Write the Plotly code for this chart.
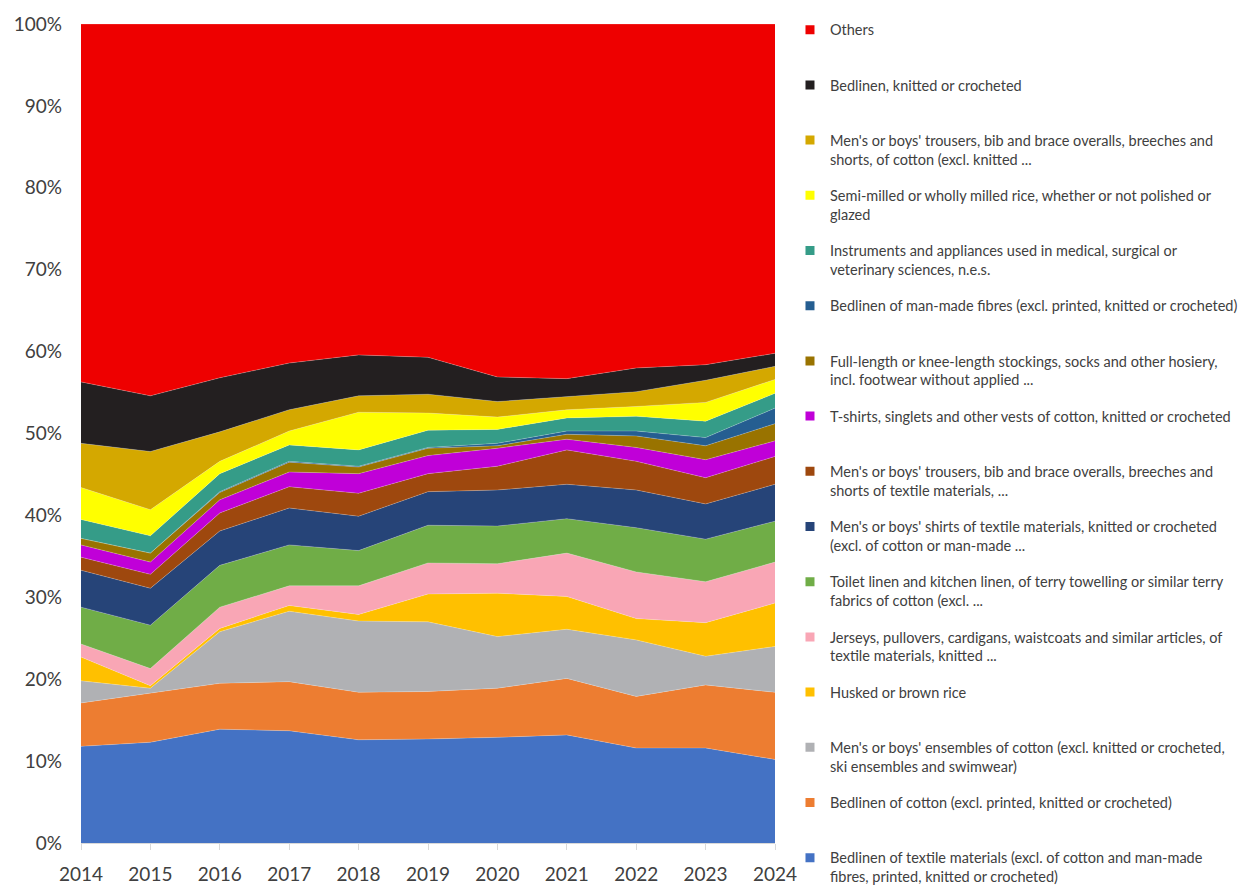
import plotly.graph_objects as go

# Years on the category axis
years = [2014, 2015, 2016, 2017, 2018, 2019, 2020, 2021, 2022, 2023, 2024]

# Share of each product group (percent), listed from the bottom of the stack upward
bedlinen_textile = [11.8, 12.3, 13.9, 13.7, 12.6, 12.7, 12.9, 13.2, 11.6, 11.6, 10.2]
bedlinen_cotton = [5.3, 6.0, 5.6, 6.0, 5.8, 5.8, 6.0, 6.9, 6.3, 7.7, 8.2]
mens_ensembles = [2.7, 0.6, 6.3, 8.6, 8.7, 8.5, 6.3, 6.0, 6.9, 3.5, 5.6]
husked_rice = [2.9, 0.3, 0.4, 0.7, 0.8, 3.4, 5.3, 4.0, 2.6, 4.1, 5.3]
jerseys = [1.6, 2.1, 2.6, 2.4, 3.5, 3.8, 3.6, 5.3, 5.7, 5.0, 5.0]
toilet_linen = [4.5, 5.3, 5.1, 5.0, 4.3, 4.6, 4.6, 4.2, 5.4, 5.2, 5.0]
mens_shirts = [4.5, 4.5, 4.2, 4.5, 4.2, 4.1, 4.4, 4.2, 4.6, 4.3, 4.5]
mens_trousers_textile = [1.6, 1.7, 2.2, 2.6, 2.8, 2.2, 2.9, 4.2, 3.5, 3.2, 3.4]
tshirts = [1.5, 1.5, 1.6, 1.8, 2.4, 2.2, 2.2, 1.3, 1.7, 2.2, 1.9]
stockings = [0.8, 1.1, 0.9, 1.2, 0.8, 0.9, 0.3, 0.6, 1.4, 1.7, 2.1]
bedlinen_manmade = [0.0, 0.0, 0.1, 0.1, 0.1, 0.1, 0.3, 0.4, 0.6, 1.0, 1.9]
instruments = [2.3, 2.1, 2.2, 2.0, 2.0, 2.1, 1.7, 1.6, 1.8, 2.0, 1.8]
milled_rice = [3.9, 3.2, 1.5, 1.7, 4.6, 2.1, 1.5, 1.0, 1.2, 2.3, 1.7]
mens_trousers_cotton = [5.4, 7.1, 3.6, 2.6, 2.0, 2.3, 1.9, 1.6, 1.8, 2.7, 1.6]
bedlinen_knitted = [7.5, 6.8, 6.6, 5.7, 5.0, 4.5, 3.0, 2.2, 2.9, 1.9, 1.6]
others = [43.7, 45.4, 43.2, 41.4, 40.4, 40.7, 43.1, 43.3, 42.0, 41.6, 40.2]

# Legend labels (wrapped as they appear in the legend)
labels = [
    "Bedlinen of textile materials (excl. of cotton and man-made<br>fibres, printed, knitted or crocheted)",
    "Bedlinen of cotton (excl. printed, knitted or crocheted)",
    "Men's or boys' ensembles of cotton (excl. knitted or crocheted,<br>ski ensembles and swimwear)",
    "Husked or brown rice",
    "Jerseys, pullovers, cardigans, waistcoats and similar articles, of<br>textile materials, knitted ...",
    "Toilet linen and kitchen linen, of terry towelling or similar terry<br>fabrics of cotton (excl. ...",
    "Men's or boys' shirts of textile materials, knitted or crocheted<br>(excl. of cotton or man-made ...",
    "Men's or boys' trousers, bib and brace overalls, breeches and<br>shorts of textile materials, ...",
    "T-shirts, singlets and other vests of cotton, knitted or crocheted",
    "Full-length or knee-length stockings, socks and other hosiery,<br>incl. footwear without applied ...",
    "Bedlinen of man-made fibres (excl. printed, knitted or crocheted)",
    "Instruments and appliances used in medical, surgical or<br>veterinary sciences, n.e.s.",
    "Semi-milled or wholly milled rice, whether or not polished or<br>glazed",
    "Men's or boys' trousers, bib and brace overalls, breeches and<br>shorts, of cotton (excl. knitted ...",
    "Bedlinen, knitted or crocheted",
    "Others",
]

series = [
    bedlinen_textile, bedlinen_cotton, mens_ensembles, husked_rice, jerseys,
    toilet_linen, mens_shirts, mens_trousers_textile, tshirts, stockings,
    bedlinen_manmade, instruments, milled_rice, mens_trousers_cotton,
    bedlinen_knitted, others,
]

colors = [
    "#4472C4", "#ED7D31", "#B0B1B4", "#FFC000", "#F9A6B5",
    "#70AD47", "#264478", "#9E480E", "#C000D8", "#997300",
    "#255E91", "#359C88", "#FFFF00", "#D4A800", "#231F20", "#EE0000",
]

TEXT = "#404040"
FONT = "Lato"

fig = go.Figure()

# Stacked areas, normalised to 100%
for name, vals, col in zip(labels, series, colors):
    fig.add_trace(go.Scatter(
        x=years, y=vals, name=name, mode="lines",
        stackgroup="share", groupnorm="percent",
        line=dict(width=0.6, color="rgba(255,255,255,0.35)"),
        fillcolor=col, showlegend=False, hoverinfo="x+y+name",
    ))

# Legend entries with square swatches, top of the stack listed first
for i, (name, col) in enumerate(reversed(list(zip(labels, colors)))):
    text = name if "<br>" in name else name + "<br>\u00a0"
    fig.add_trace(go.Scatter(
        x=[None], y=[None], mode="markers", name=text,
        marker=dict(symbol="square", size=9, color=col),
        legendgroup=f"g{i}", showlegend=True,
    ))

fig.update_layout(
    width=1259, height=887,
    margin=dict(l=81, r=484, t=24, b=44, autoexpand=False),
    paper_bgcolor="white", plot_bgcolor="white",
    font=dict(family=FONT, color=TEXT),
    showlegend=True,
    legend=dict(
        x=1.0216, xanchor="left", y=1.0125, yanchor="top",
        traceorder="grouped", tracegroupgap=14.5, valign="top",
        font=dict(family=FONT, size=14.5, color=TEXT),
        bgcolor="rgba(0,0,0,0)", borderwidth=0, maxheight=1000,
        itemclick=False, itemdoubleclick=False,
    ),
    xaxis=dict(
        range=[2014, 2024], tickmode="array", tickvals=years,
        ticktext=[str(y) for y in years],
        showline=True, linecolor="#D9D9D9", linewidth=1,
        ticks="outside", ticklen=6, tickcolor="#D9D9D9",
        showgrid=False, zeroline=False,
        tickfont=dict(family=FONT, size=19, color=TEXT),
        ticklabelstandoff=8,
    ),
    yaxis=dict(
        range=[0, 100], tickmode="array",
        tickvals=[0, 10, 20, 30, 40, 50, 60, 70, 80, 90, 100],
        ticktext=[f"{v}%" for v in range(0, 101, 10)],
        showline=False, showgrid=False, zeroline=False, ticks="",
        tickfont=dict(family=FONT, size=19, color=TEXT),
        ticklabelstandoff=18,
    ),
)

fig.write_html("out.html")
